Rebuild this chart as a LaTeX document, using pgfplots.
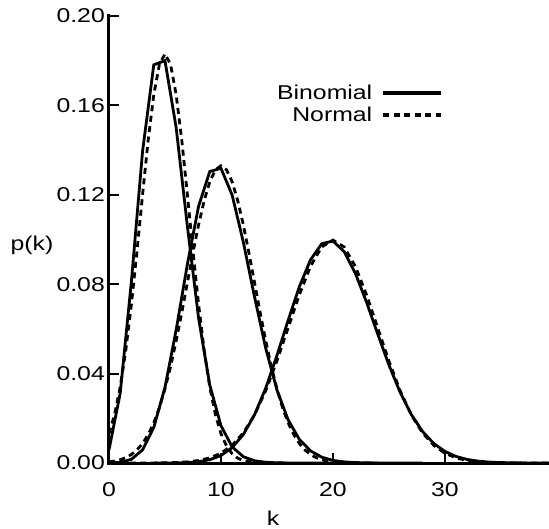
\documentclass[border=0pt]{standalone}
\usepackage{fontspec}
\setmainfont{Liberation Sans}
\usepackage{graphicx}
\usepackage{pgfplots}
\pgfplotsset{compat=1.18}
\newcommand{\sx}[1]{\scalebox{1.24}[1]{#1}}

\begin{document}
\begin{tikzpicture}
\begin{axis}[name=ax,
  width=440bp, height=447bp, scale only axis,
  xmin=0, xmax=39.3, ymin=0, ymax=0.2,
  axis lines=left,
  axis line style={-, line width=3bp, line cap=rect},
  xtick={0,10,20,30}, ytick={0,0.04,0.08,0.12,0.16,0.2},
  minor tick num=0, tick align=inside,
  major tick length=10bp, tick style={line width=2bp, black},
  font=\fontsize{20bp}{24bp}\selectfont,
  /pgf/number format/assume math mode=true,
  xticklabel={\sx{\pgfmathprintnumber{\tick}}},
  yticklabel={\sx{\pgfmathprintnumber[fixed,fixed zerofill,precision=2]{\tick}}},
  xticklabel style={inner sep=0pt, yshift=-19bp},
  yticklabel style={inner sep=0pt, xshift=-4bp},
  xlabel={\sx{k}},
  xlabel style={at={(axis description cs:0.373,-0.123)}, anchor=center},
  ylabel={\sx{p(k)}},
  ylabel style={rotate=-90, at={(axis description cs:-0.175,0.488)}, anchor=center},
  legend style={draw=none, fill=none, at={(axis description cs:0.759,0.850)},
    anchor=north east, inner sep=0pt, row sep=2bp, column sep=7bp,
    nodes={inner sep=2bp}, font=\fontsize{20bp}{24bp}\selectfont},
  legend cell align=right, legend plot pos=right,
  legend image code/.code={\draw[#1, line width=3.5bp] (0bp,0bp) -- (58bp,0bp);},
  bin/.style={black, line width=2.8bp},
  nrm/.style={black, line width=2.8bp, dash pattern=on 6bp off 4.5bp},
]

% binomial n=100, p=0.05
\addplot[bin] coordinates {
  (0,0.005921) (1,0.031161) (2,0.081182) (3,0.139576) (4,0.178143)
  (5,0.180018) (6,0.150015) (7,0.106026) (8,0.064871) (9,0.034901)
  (10,0.016716) (11,0.007198) (12,0.002810) (13,0.001001) (14,0.000327)
  (15,0.000099) (16,0.000028) (17,0.000007) (18,0.000002) (19,0.0000004)
  (20,0.0000001)
};
\addlegendentry{\sx{Binomial}}

% normal mean 5, var 4.75
\addplot[nrm] coordinates {
  (0,0.013173) (0.5,0.021719) (1,0.033972) (1.5,0.050414) (2,0.070978)
  (2.5,0.094808) (3,0.120144) (3.5,0.144445) (4,0.164758) (4.5,0.178293)
  (5,0.183047) (5.5,0.178293) (6,0.164758) (6.5,0.144445) (7,0.120144)
  (7.5,0.094808) (8,0.070978) (8.5,0.050414) (9,0.033972) (9.5,0.021719)
  (10,0.013173) (10.5,0.007581) (11,0.004139) (11.5,0.002144) (12,0.001053)
  (13,0.000217) (14,0.000036) (15,0.000005) (16,0.0000006)
};
\addlegendentry{\sx{Normal}}

% binomial n=100, p=0.1
\addplot[bin, forget plot] coordinates {
  (0,0.000027) (1,0.000295) (2,0.001623) (3,0.005892) (4,0.015875)
  (5,0.033866) (6,0.059579) (7,0.088895) (8,0.114823) (9,0.130416)
  (10,0.131865) (11,0.119877) (12,0.098788) (13,0.074302) (14,0.051304)
  (15,0.032682) (16,0.019291) (17,0.010591) (18,0.005426) (19,0.002602)
  (20,0.001171) (21,0.000496) (22,0.000198) (23,0.000075) (24,0.000027)
  (25,0.000009) (26,0.000003) (27,0.000001) (28,0.0000002)
};

% normal mean 10, var 9
\addplot[nrm, forget plot] coordinates {
  (0,0.000514) (0.5,0.000884) (1,0.001477) (1.5,0.002402) (2,0.003799)
  (2.5,0.005843) (3,0.008741) (3.5,0.012717) (4,0.017997) (4.5,0.024773)
  (5,0.033159) (5.5,0.043172) (6,0.054670) (6.5,0.067333) (7,0.080657)
  (7.5,0.093971) (8,0.106483) (8.5,0.117355) (9,0.125795) (9.5,0.131147)
  (10,0.132981) (10.5,0.131147) (11,0.125795) (11.5,0.117355) (12,0.106483)
  (12.5,0.093971) (13,0.080657) (13.5,0.067333) (14,0.054670) (14.5,0.043172)
  (15,0.033159) (15.5,0.024773) (16,0.017997) (16.5,0.012717) (17,0.008741)
  (17.5,0.005843) (18,0.003799) (18.5,0.002402) (19,0.001477) (19.5,0.000884)
  (20,0.000514) (21,0.000160) (22,0.000045) (23,0.000011) (24,0.000002)
};

% binomial n=100, p=0.2
\addplot[bin, forget plot] coordinates {
  (4,0.000003) (5,0.000015) (6,0.000059) (7,0.000199) (8,0.000579)
  (9,0.001479) (10,0.003364) (11,0.006880) (12,0.012756) (13,0.021587)
  (14,0.033538) (15,0.048071) (16,0.063844) (17,0.078866) (18,0.090915)
  (19,0.098092) (20,0.099318) (21,0.094589) (22,0.084915) (23,0.071993)
  (24,0.057744) (25,0.043886) (26,0.031648) (27,0.021685) (28,0.014134)
  (29,0.008773) (30,0.005191) (31,0.002930) (32,0.001580) (33,0.000814)
  (34,0.000401) (35,0.000189) (36,0.000085) (37,0.000037) (38,0.000015)
  (39,0.000006) (40,0.000002)
};

% normal mean 20, var 16
\addplot[nrm, forget plot] coordinates {
  (0,0.0000004) (1,0.000001) (2,0.000004) (3,0.000012) (4,0.000033)
  (5,0.000088) (6,0.000218) (7,0.000507) (8,0.001108) (9,0.002273)
  (10,0.004382) (11,0.007935) (12,0.013498) (13,0.021569) (14,0.032380)
  (15,0.045662) (16,0.060493) (17,0.075285) (18,0.088017) (19,0.096668)
  (20,0.099736) (21,0.096668) (22,0.088017) (23,0.075285) (24,0.060493)
  (25,0.045662) (26,0.032380) (27,0.021569) (28,0.013498) (29,0.007935)
  (30,0.004382) (31,0.002273) (32,0.001108) (33,0.000507) (34,0.000218)
  (35,0.000088) (36,0.000033) (37,0.000012) (38,0.000004) (39,0.000001)
  (40,0.0000004)
};
\end{axis}
\pgfresetboundingbox
\path[use as bounding box] ([xshift=-109bp,yshift=-66bp]ax.south west)
  rectangle ([yshift=16bp]ax.north east);
\end{tikzpicture}
\end{document}
